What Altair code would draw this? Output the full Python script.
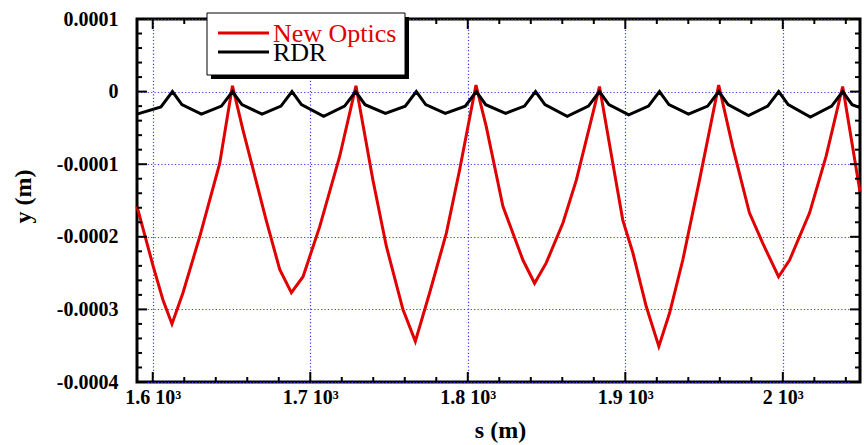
import altair as alt
import pandas as pd

# ---------------- data ----------------
series_names = ["New Optics", "RDR"]
series_colors = ["#e00000", "#000000"]

new_optics_s = [1590.0, 1600.2, 1606.5, 1612.2, 1619.2, 1629.8, 1642.5, 1650.6, 1657.3, 1672.0,
                1680.6, 1688.0, 1695.4, 1706.0, 1718.7, 1729.0, 1739.8, 1748.3, 1758.8, 1766.7,
                1775.8, 1786.4, 1794.8, 1805.2, 1811.7, 1822.3, 1835.0, 1842.4, 1849.8, 1860.4,
                1868.9, 1883.6, 1892.1, 1898.4, 1904.8, 1913.3, 1921.3, 1928.1, 1936.5, 1947.1,
                1959.3, 1968.2, 1978.8, 1987.3, 1997.3, 2004.3, 2017.0, 2027.5, 2038.0, 2049.0]
new_optics_y = [-1.58e-4, -2.40e-4, -2.87e-4, -3.20e-4, -2.77e-4, -2.00e-4, -0.99e-4, 0.08e-4, -0.53e-4, -1.77e-4,
                -2.45e-4, -2.77e-4, -2.55e-4, -1.86e-4, -0.89e-4, 0.08e-4, -1.22e-4, -2.13e-4, -3.00e-4, -3.44e-4,
                -2.77e-4, -1.95e-4, -1.08e-4, 0.09e-4, -0.48e-4, -1.58e-4, -2.32e-4, -2.64e-4, -2.36e-4, -1.81e-4,
                -1.22e-4, 0.07e-4, -0.99e-4, -1.77e-4, -2.22e-4, -2.96e-4, -3.51e-4, -3.05e-4, -2.32e-4, -1.22e-4,
                0.09e-4, -0.76e-4, -1.67e-4, -2.09e-4, -2.55e-4, -2.32e-4, -1.67e-4, -0.89e-4, 0.07e-4, -1.38e-4]

rdr_s = [1590.0, 1605.2, 1612.5, 1618.5, 1630.9, 1643.6, 1650.6, 1656.6, 1669.4, 1681.4,
         1688.4, 1694.4, 1708.5, 1721.8, 1728.8, 1734.8, 1747.7, 1760.3, 1767.3, 1773.3,
         1785.7, 1798.4, 1805.4, 1811.4, 1824.0, 1836.0, 1843.0, 1849.0, 1863.1, 1876.6,
         1883.6, 1889.6, 1902.2, 1914.7, 1921.7, 1927.7, 1940.1, 1952.3, 1959.3, 1965.3,
         1978.2, 1990.4, 1997.4, 2003.4, 2017.5, 2031.0, 2038.0, 2044.0, 2049.0]
rdr_y = [-0.31e-4, -0.21e-4, 0.0, -0.18e-4, -0.31e-4, -0.20e-4, 0.0, -0.18e-4, -0.31e-4, -0.20e-4,
         0.0, -0.18e-4, -0.34e-4, -0.20e-4, 0.0, -0.18e-4, -0.30e-4, -0.20e-4, 0.0, -0.18e-4,
         -0.30e-4, -0.20e-4, 0.0, -0.18e-4, -0.30e-4, -0.20e-4, 0.0, -0.18e-4, -0.34e-4, -0.20e-4,
         0.0, -0.18e-4, -0.32e-4, -0.20e-4, 0.0, -0.18e-4, -0.31e-4, -0.20e-4, 0.0, -0.18e-4,
         -0.33e-4, -0.20e-4, 0.0, -0.18e-4, -0.35e-4, -0.20e-4, 0.0, -0.18e-4, -0.22e-4]

x_major = [1600, 1700, 1800, 1900, 2000]
x_minor = [1620, 1640, 1660, 1680, 1720, 1740, 1760, 1780, 1820, 1840, 1860, 1880,
           1920, 1940, 1960, 1980, 2020, 2040]
y_major = [0.0001, 0.0, -0.0001, -0.0002, -0.0003, -0.0004]
y_minor = [0.00008, 0.00006, 0.00004, 0.00002,
           -0.00002, -0.00004, -0.00006, -0.00008,
           -0.00012, -0.00014, -0.00016, -0.00018,
           -0.00022, -0.00024, -0.00026, -0.00028,
           -0.00032, -0.00034, -0.00036, -0.00038]

x_domain = [1590, 2049]
y_domain = [-0.0004, 0.0001]

# ---------------- layout ----------------
W, H = 723, 363
FONT = "Liberation Serif"
LW = 3

xscale = alt.Scale(domain=x_domain, nice=False, zero=False)
yscale = alt.Scale(domain=y_domain, nice=False, zero=False)

df_new = pd.DataFrame({"s": new_optics_s, "y": new_optics_y})
df_rdr = pd.DataFrame({"s": rdr_s, "y": rdr_y})

x_axis = alt.Axis(values=x_major, title="s (m)", grid=True, ticks=False, domain=False,
                  labelExpr="(datum.value / 1000) + ' 10³'", labelPadding=5,
                  labelFontSize=20, labelFontWeight="bold", labelFont=FONT, labelColor="black",
                  labelBaseline="top", labelFlush=False, labelOverlap=False,
                  titleFont=FONT, titleFontSize=24, titleFontWeight="bold", titleColor="black",
                  titleX=363, titleY=55, titleBaseline="alphabetic",
                  gridColor="#3a3aff", gridDash=[1.2, 2.2], gridWidth=1.2)
y_axis = alt.Axis(values=y_major, title="y (m)", grid=True, ticks=False, domain=False,
                  labelExpr="datum.value == 0 ? '0' : (datum.value < 0 ? '-' : '') + format(abs(datum.value), '.4f')",
                  labelPadding=19, labelFontSize=20, labelFontWeight="bold", labelFont=FONT,
                  labelColor="black", labelFlush=False, labelOverlap=False,
                  titleFont=FONT, titleFontSize=24, titleFontWeight="bold", titleColor="black",
                  titleX=-102, titleY=177, titleBaseline="bottom", titleAngle=270,
                  gridColor="#3a3aff", gridDash=[1.2, 2.2], gridWidth=1.2)

X = alt.X("s:Q", scale=xscale, axis=x_axis)
Y = alt.Y("y:Q", scale=yscale, axis=y_axis)

red_line = alt.Chart(df_new).mark_line(strokeWidth=LW, color=series_colors[0]).encode(x=X, y=Y)
black_line = alt.Chart(df_rdr).mark_line(strokeWidth=LW, color=series_colors[1]).encode(x=X, y=Y)

# inward ticks on all four sides
def xticks(values, length):
    d = pd.DataFrame({"s": values})
    bottom = alt.Chart(d).mark_rule(color="black", strokeWidth=2).encode(
        x=X, y=alt.value(H), y2=alt.value(H - length))
    top = alt.Chart(d).mark_rule(color="black", strokeWidth=2).encode(
        x=X, y=alt.value(0), y2=alt.value(length))
    return [bottom, top]

def yticks(values, length):
    d = pd.DataFrame({"y": values})
    left = alt.Chart(d).mark_rule(color="black", strokeWidth=2).encode(
        y=Y, x=alt.value(0), x2=alt.value(length))
    right = alt.Chart(d).mark_rule(color="black", strokeWidth=2).encode(
        y=Y, x=alt.value(W), x2=alt.value(W - length))
    return [left, right]

tick_layers = xticks(x_major, 10) + xticks(x_minor, 5) + yticks(y_major, 10) + yticks(y_minor, 5)

# legend box (drawn by hand: shadow, box, sample lines, labels)
one = pd.DataFrame({"k": [0]})
LX0, LX1, LY0, LY1 = 70, 268, -6, 56
shadow = alt.Chart(one).mark_rect(color="black").encode(
    x=alt.value(LX0 + 4), x2=alt.value(LX1 + 4), y=alt.value(LY0 + 4), y2=alt.value(LY1 + 4))
box = alt.Chart(one).mark_rect(fill="white", stroke="black", strokeWidth=1).encode(
    x=alt.value(LX0), x2=alt.value(LX1), y=alt.value(LY0), y2=alt.value(LY1))
legend_layers = [shadow, box]
for i, (name, col) in enumerate(zip(series_names, series_colors)):
    ly = 14 + i * 19
    legend_layers.append(alt.Chart(one).mark_rule(color=col, strokeWidth=LW).encode(
        x=alt.value(81), x2=alt.value(132), y=alt.value(ly)))
    legend_layers.append(alt.Chart(one).mark_text(
        text=name, color=col, font=FONT, fontSize=26, align="left", baseline="alphabetic").encode(
        x=alt.value(136), y=alt.value(ly + 9)))

chart = alt.layer(red_line, black_line, *tick_layers, *legend_layers).properties(
    width=W, height=H,
    background="white",
    autosize=alt.AutoSizeParams(type="none"),
    padding={"left": 137, "top": 19, "right": 4, "bottom": 63},
).configure_view(stroke="black", strokeWidth=3)

chart.save("out.html", embed_options={"renderer": "svg", "actions": False})
